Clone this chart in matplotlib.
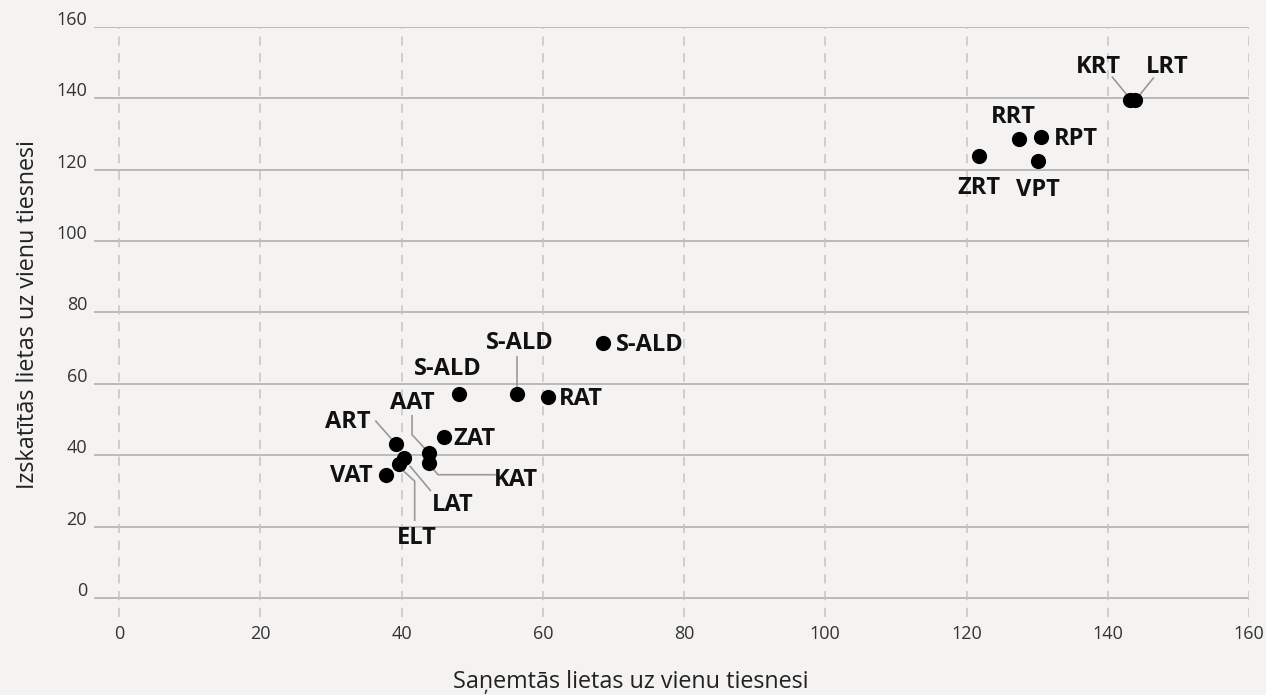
import matplotlib
matplotlib.use("Agg")
import matplotlib.pyplot as plt
import matplotlib.transforms as mtransforms

plt.rcParams['font.family'] = ['Open Sans', 'DejaVu Sans']

# courts: cases received (x) and cases heard (y) per judge
courts = ['ZRT', 'RRT', 'RPT', 'VPT', 'KRT', 'LRT',
          'S-ALD', 'S-ALD', 'S-ALD', 'RAT', 'ZAT',
          'AAT', 'ART', 'KAT', 'LAT', 'ELT', 'VAT']
received = [121.7, 127.4, 130.6, 130.1, 143.2, 143.9,
            68.5, 56.4, 48.1, 60.7, 46.0,
            43.9, 39.2, 43.9, 40.4, 39.6, 37.8]
heard = [123.8, 128.5, 129.1, 122.4, 139.5, 139.5,
         71.5, 57.2, 57.2, 56.4, 45.2,
         40.7, 43.1, 37.9, 39.1, 37.5, 34.4]

x_ticks = [0, 20, 40, 60, 80, 100, 120, 140, 160]
y_ticks = [0, 20, 40, 60, 80, 100, 120, 140, 160]
x_title = 'Saņemtās lietas uz vienu tiesnesi'
y_title = 'Izskatītās lietas uz vienu tiesnesi'

# label placement in pixels from the dot (dx, dy, ha), plus leader line vertices
label_pos = [
    (0, -32, 'center'), (-5, 22, 'center'), (13, -2, 'left'), (0, -29, 'center'),
    (-32, 33, 'center'), (32, 33, 'center'),
    (13, -2, 'left'), (2, 51, 'center'), (-11, 25, 'center'), (11, -2, 'left'),
    (9, -2, 'left'),
    (-17, 50, 'center'), (-48, 22, 'center'), (87, -17, 'center'),
    (48, -47, 'center'), (18, -74, 'center'), (-13, -1, 'right'),
]
leaders = {
    4: [(-18, 23), (-4, 6)],
    5: [(18, 22), (5, 6)],
    7: [(0, 37), (0, 7)],
    11: [(-17, 37), (-17, 18), (-3, 3)],
    12: [(-20, 23), (-5, 6)],
    13: [(4, -6), (9, -12), (66, -12)],
    14: [(6, -8), (26, -32)],
    15: [(5, -7), (16, -17), (16, -56)],
}

bg = '#f4f3f1'
W, H = 1266, 695
fig = plt.figure(figsize=(W / 100, H / 100), dpi=100, facecolor=bg)

# axes box: left edge of gridlines to x=160, bottom of dashed lines to y=160
left_px, right_px, top_px, bottom_px = 94, 1249, 27, 617
ax = fig.add_axes([left_px / W, (H - bottom_px) / H,
                   (right_px - left_px) / W, (bottom_px - top_px) / H])
ax.set_facecolor(bg)
x_per_px = 160 / (1249 - 119)
y_per_px = 160 / (598 - 27)
xmin = -(119 - left_px) * x_per_px
ymin = -(bottom_px - 598) * y_per_px
ax.set_xlim(xmin, 160)
ax.set_ylim(ymin, 160)
for s in ax.spines.values():
    s.set_visible(False)

ax.hlines(y_ticks, xmin, 160, color='#ababab', lw=1.1, zorder=1)
ax.vlines(x_ticks, ymin, 160, color='#c4c4c4', lw=1.1,
          linestyles=(0, (6, 5)), zorder=1)

ax.set_xticks(x_ticks)
ax.set_yticks(y_ticks)
ax.tick_params(length=0, labelsize=13, labelcolor='#333333')
ax.tick_params(axis='x', pad=6)
ax.tick_params(axis='y', pad=5)
for lab in ax.get_yticklabels():
    lab.set_transform(lab.get_transform() +
                      mtransforms.ScaledTranslation(0, 6.5 / 72, fig.dpi_scale_trans))

ax.scatter(received, heard, s=120, color='black', zorder=3, linewidths=0)

for i, name in enumerate(courts):
    dx, dy, ha = label_pos[i]
    ax.annotate(name, (received[i], heard[i]), xytext=(dx, dy),
                textcoords='offset pixels', ha=ha, va='center',
                fontsize=17, fontweight='bold', color='#111111', zorder=4)
    if i in leaders:
        pts = leaders[i]
        tr = mtransforms.Affine2D() + mtransforms.ScaledTranslation(
            received[i], heard[i], ax.transData)
        ax.plot([p[0] for p in pts], [p[1] for p in pts], color='#999999',
                lw=1.2, transform=tr, zorder=2, clip_on=False)

fig.text(631 / W, 1 - 682 / H, x_title, ha='center', va='center',
         fontsize=16.8, color='#222222')
fig.text(28 / W, 1 - 315 / H, y_title, ha='center', va='center',
         rotation=90, fontsize=16.8, color='#222222')

fig.savefig('out.png', dpi=100, facecolor=bg)
